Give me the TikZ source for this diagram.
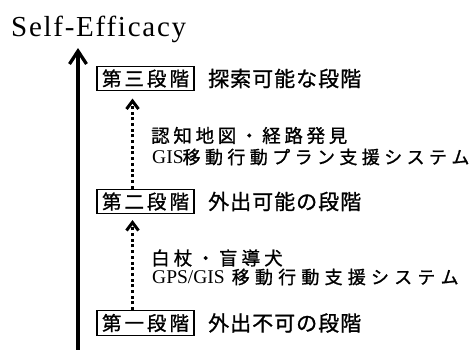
\documentclass[tikz,border=0pt]{standalone}
\usepackage{fontspec}
\setmainfont{Liberation Serif}
\newfontfamily\titlefont{Liberation Serif}[LetterSpace=6]
\newfontfamily\jp{Noto Sans CJK JP}[FakeBold=1]
\newfontfamily\latinlab{Liberation Serif}
\usetikzlibrary{arrows.meta}
\makeatletter
\newcommand\pitched[2]{\@tfor\my@c:=#2\do{\makebox[#1][l]{\my@c}}}
\makeatother
\tikzset{
  stagebox/.style={draw, line width=1.2pt, minimum width=97pt, minimum height=24.5pt, inner sep=0pt, font=\jp\fontsize{19.5}{19.5}\selectfont},
  stagetext/.style={anchor=west, inner sep=0pt, font=\jp\fontsize{21}{21}\selectfont},
  labA/.style={anchor=west, inner sep=0pt, font=\jp\fontsize{18.5}{18.5}\selectfont},
  labB/.style={anchor=west, inner sep=0pt, font=\jp\fontsize{18}{18}\selectfont},
  mainarrow/.style={line width=3.3pt, -{Straight Barb[length=13pt,width=17pt]}},
  dotarrow/.style={line width=3pt, dash pattern=on 3pt off 2.7pt, -{Straight Barb[length=8pt,width=12pt,line width=3pt]}}
}
\newcommand{\latn}[1]{{\latinlab\fontsize{19.5}{19.5}\selectfont #1}}
\newcommand{\boxtext}[1]{\hspace{3pt}\pitched{22.5pt}{#1}}
\begin{document}
\begin{tikzpicture}[x=1pt,y=-1pt]
\useasboundingbox (0,0) rectangle (471,349);
\node[anchor=base west, inner sep=0pt, font=\titlefont\fontsize{29}{29}\selectfont] (title) at (11,36) {Self-Efficacy};
\coordinate (m0) at (78,352);
\coordinate (m1) at (78,48);
\draw[mainarrow] (m0) -- (m1);
\node[stagebox] (b1) at (145.5,78.5) {\boxtext{第三段階}};
\node[stagebox] (b2) at (145.5,201.5) {\boxtext{第二段階}};
\node[stagebox] (b3) at (145.5,323) {\boxtext{第一段階}};
\node[stagetext] (s1) at (208,78.5) {\pitched{22pt}{探索可能な段階}};
\node[stagetext] (s2) at (208,201.5) {\pitched{22pt}{外出可能の段階}};
\node[stagetext] (s3) at (208,323) {\pitched{22pt}{外出不可の段階}};
\coordinate (t1) at (132.5,98.5);
\coordinate (t2) at (132.5,220);
\draw[dotarrow] (b2.north -| t1) -- (t1);
\draw[dotarrow] (b3.north -| t2) -- (t2);
\node[labA] (l1a) at (151,135.5) {\pitched{22.2pt}{認知地図・経路発見}};
\node[labB] (l1b) at (152,157) {\latn{GIS}\hspace{-1pt}\pitched{22.4pt}{移動行動プラン支援システム}};
\node[labA] (l2a) at (151,258) {\pitched{22.6pt}{白杖・盲導犬}};
\node[labB] (l2b) at (152,277) {\latn{GPS/GIS}\hspace{7pt}\pitched{23.2pt}{移動行動支援システム}};
\end{tikzpicture}
\end{document}
